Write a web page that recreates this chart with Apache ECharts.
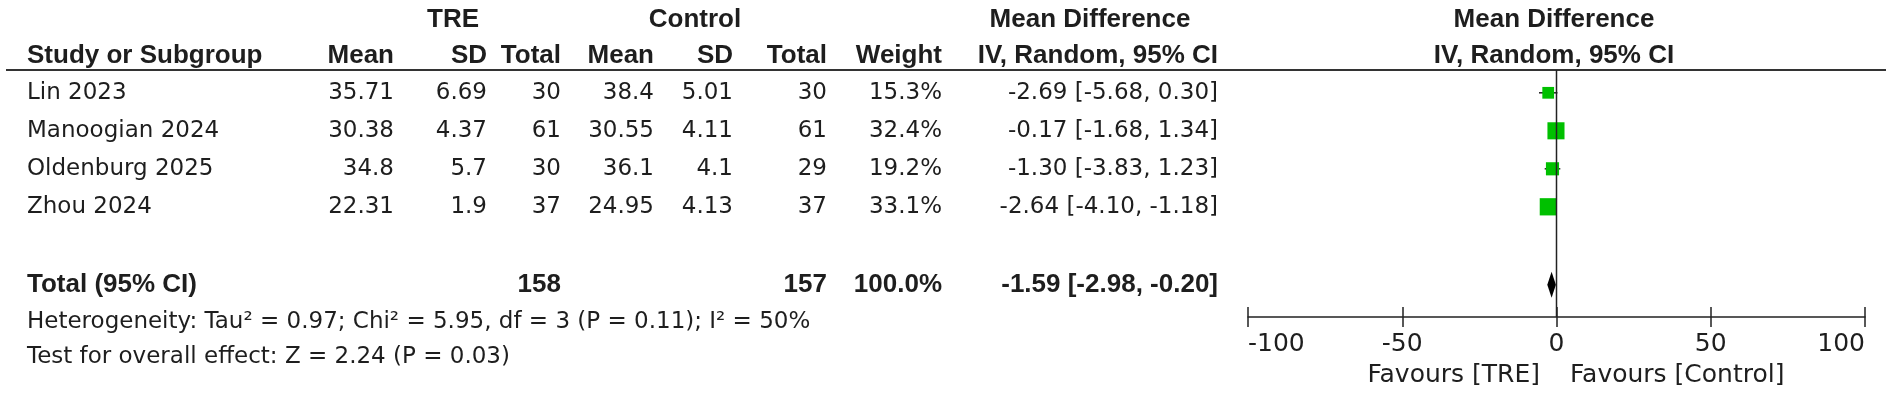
<!DOCTYPE html>
<html><head><meta charset="utf-8">
<script src="https://cdn.jsdelivr.net/npm/echarts@6/dist/echarts.min.js"></script>
<style>html,body{margin:0;padding:0;background:#fff}#c{width:1901px;height:399px}</style>
</head><body><div id="c"></div>
<script>
// ---------------- data ----------------
const studies   = ['Lin 2023', 'Manoogian 2024', 'Oldenburg 2025', 'Zhou 2024'];
const treMean   = [35.71, 30.38, 34.8, 22.31];
const treSD     = [6.69, 4.37, 5.7, 1.9];
const treTotal  = [30, 61, 30, 37];
const ctlMean   = [38.4, 30.55, 36.1, 24.95];
const ctlSD     = [5.01, 4.11, 4.1, 4.13];
const ctlTotal  = [30, 61, 29, 37];
const weight    = [15.3, 32.4, 19.2, 33.1];
const md        = [-2.69, -0.17, -1.30, -2.64];
const ciLow     = [-5.68, -1.68, -3.83, -4.10];
const ciHigh    = [0.30, 1.34, 1.23, -1.18];
const pooledTotals = [158, 157];
const pooledWeight = 100.0;
const pooledMD     = [-1.59, -2.98, -0.20];   // estimate, low, high
const xTicks       = [-100, -50, 0, 50, 100];
const heterogeneityText = 'Heterogeneity: Tau\u00b2 = 0.97; Chi\u00b2 = 5.95, df = 3 (P = 0.11); I\u00b2 = 50%';
const overallText       = 'Test for overall effect: Z = 2.24 (P = 0.03)';
const favoursLeft  = 'Favours [TRE]';
const favoursRight = 'Favours [Control]';

// ---------------- layout ----------------
const ROW = 38;                 // px per row unit
const LINE_Y = 70;              // header rule
const TXT = '#1e1e1e';
const FR = '23px "DejaVu Sans"';
const FA = '25px "DejaVu Sans"';
const FB = 'bold 26px "Liberation Sans"';
const col = {study:27, treMean:394, treSD:487, treTotal:561, ctlMean:654, ctlSD:733, ctlTotal:827, weight:942, ci:1218,
             treHead:453, ctlHead:695, mdHead:1090, plotHead:1554, favL:1540, favR:1570, ruleL:6, ruleR:1886};
const yPos = {head1:-1.32, head2:-0.37, row0:0.6, total:5.65, het:6.62, test:7.55, fav:8.03};
const TMIN = -1.8, TMAX = 8.5;

const f2 = v => v.toFixed(2);
const ciStr = (m, l, h) => f2(m) + ' [' + f2(l) + ', ' + f2(h) + ']';

const cells = [];
function cell(x, y, text, align, font) { cells.push({x, y, text: String(text), align, font}); }

// headers
cell(col.treHead, yPos.head1, 'TRE', 'center', FB);
cell(col.ctlHead, yPos.head1, 'Control', 'center', FB);
cell(col.mdHead, yPos.head1, 'Mean Difference', 'center', FB);
cell(col.plotHead, yPos.head1, 'Mean Difference', 'center', FB);
cell(col.study, yPos.head2, 'Study or Subgroup', 'left', FB);
cell(col.treMean, yPos.head2, 'Mean', 'right', FB);
cell(col.treSD, yPos.head2, 'SD', 'right', FB);
cell(col.treTotal, yPos.head2, 'Total', 'right', FB);
cell(col.ctlMean, yPos.head2, 'Mean', 'right', FB);
cell(col.ctlSD, yPos.head2, 'SD', 'right', FB);
cell(col.ctlTotal, yPos.head2, 'Total', 'right', FB);
cell(col.weight, yPos.head2, 'Weight', 'right', FB);
cell(col.ci, yPos.head2, 'IV, Random, 95% CI', 'right', FB);
cell(col.plotHead, yPos.head2, 'IV, Random, 95% CI', 'center', FB);

studies.forEach((s, i) => {
  const y = yPos.row0 + i;
  cell(col.study, y, s, 'left', FR);
  cell(col.treMean, y, treMean[i], 'right', FR);
  cell(col.treSD, y, treSD[i], 'right', FR);
  cell(col.treTotal, y, treTotal[i], 'right', FR);
  cell(col.ctlMean, y, ctlMean[i], 'right', FR);
  cell(col.ctlSD, y, ctlSD[i], 'right', FR);
  cell(col.ctlTotal, y, ctlTotal[i], 'right', FR);
  cell(col.weight, y, weight[i].toFixed(1) + '%', 'right', FR);
  cell(col.ci, y, ciStr(md[i], ciLow[i], ciHigh[i]), 'right', FR);
});
cell(col.study, yPos.total, 'Total (95% CI)', 'left', FB);
cell(col.treTotal, yPos.total, pooledTotals[0], 'right', FB);
cell(col.ctlTotal, yPos.total, pooledTotals[1], 'right', FB);
cell(col.weight, yPos.total, pooledWeight.toFixed(1) + '%', 'right', FB);
cell(col.ci, yPos.total, ciStr(pooledMD[0], pooledMD[1], pooledMD[2]), 'right', FB);
cell(col.study, yPos.het, heterogeneityText, 'left', FR);
cell(col.study, yPos.test, overallText, 'left', FR);
cell(col.favL, yPos.fav, favoursLeft, 'right', FA);
cell(col.favR, yPos.fav, favoursRight, 'left', FA);

const plotTop = LINE_Y, plotRows = 6.5;
const forest = studies.map((s, i) => [md[i], yPos.row0 + i, ciLow[i], ciHigh[i], weight[i]]);

const tickAxisBase = {
  gridIndex: 1, type: 'value', min: xTicks[0], max: xTicks[xTicks.length - 1], interval: xTicks[1] - xTicks[0],
  position: 'bottom', splitLine: {show: false}
};

const chart = echarts.init(document.getElementById('c'), null, {renderer: 'canvas'});
chart.setOption({
  animation: false,
  backgroundColor: '#fff',
  grid: [
    {left: 0, width: 1901, top: LINE_Y + TMIN * ROW, height: (TMAX - TMIN) * ROW},
    {left: 1248, width: 617, top: plotTop, height: plotRows * ROW}
  ],
  xAxis: [
    {gridIndex: 0, type: 'value', min: 0, max: 1901, show: false},
    Object.assign({}, tickAxisBase, {
      axisLine: {show: true, onZero: false, lineStyle: {color: '#222', width: 1.5}},
      axisTick: {show: true, length: 10, lineStyle: {color: '#222', width: 1.5}},
      axisLabel: {show: true, margin: 15, color: TXT, fontFamily: 'DejaVu Sans', fontSize: 25,
                  showMinLabel: true, showMaxLabel: true, alignMinLabel: 'left', alignMaxLabel: 'right'}
    }),
    Object.assign({}, tickAxisBase, {
      axisLine: {show: false, onZero: false}, axisLabel: {show: false},
      axisTick: {show: true, inside: true, length: 10, lineStyle: {color: '#222', width: 1.5}}
    })
  ],
  yAxis: [
    {gridIndex: 0, type: 'value', min: TMIN, max: TMAX, inverse: true, show: false},
    {gridIndex: 1, type: 'value', min: 0, max: plotRows, inverse: true, show: false}
  ],
  series: [
    { // header rule
      type: 'line', xAxisIndex: 0, yAxisIndex: 0, symbol: 'none', silent: true,
      data: [[col.ruleL, 0], [col.ruleR, 0]], lineStyle: {color: '#333', width: 2.2}
    },
    { // line of no effect
      type: 'line', xAxisIndex: 1, yAxisIndex: 1, symbol: 'none', silent: true,
      data: [[0, 0], [0, plotRows]], lineStyle: {color: '#222', width: 1.5}
    },
    { // table text
      type: 'custom', xAxisIndex: 0, yAxisIndex: 0, silent: true,
      data: cells.map(c => [c.x, c.y]),
      renderItem: (params, api) => {
        const c = cells[params.dataIndex];
        const p = api.coord([c.x, c.y]);
        return {type: 'text', x: p[0], y: p[1],
                style: {text: c.text, font: c.font, fill: TXT, align: c.align, verticalAlign: 'middle'}};
      }
    },
    { // study CIs and boxes
      type: 'custom', xAxisIndex: 1, yAxisIndex: 1, silent: true,
      data: forest,
      renderItem: (params, api) => {
        const m = api.coord([api.value(0), api.value(1)]);
        const lo = api.coord([api.value(2), api.value(1)]);
        const hi = api.coord([api.value(3), api.value(1)]);
        const s = 3.0 * Math.sqrt(api.value(4));
        return {type: 'group', children: [
          {type: 'line', shape: {x1: lo[0], y1: lo[1], x2: hi[0], y2: hi[1]}, style: {stroke: '#222', lineWidth: 1.5}},
          {type: 'rect', shape: {x: m[0] - s / 2, y: m[1] - s / 2, width: s, height: s}, style: {fill: '#00c000'}}
        ]};
      }
    },
    { // pooled diamond
      type: 'custom', xAxisIndex: 1, yAxisIndex: 1, silent: true,
      data: [[pooledMD[0], yPos.total, pooledMD[1], pooledMD[2]]],
      renderItem: (params, api) => {
        const m = api.coord([api.value(0), api.value(1)]);
        const lo = api.coord([api.value(2), api.value(1)]);
        const hi = api.coord([api.value(3), api.value(1)]);
        const h = 13;
        return {type: 'polygon', shape: {points: [[lo[0], m[1]], [m[0], m[1] - h], [hi[0], m[1]], [m[0], m[1] + h]]},
                style: {fill: '#000'}};
      }
    }
  ]
});
</script></body></html>
